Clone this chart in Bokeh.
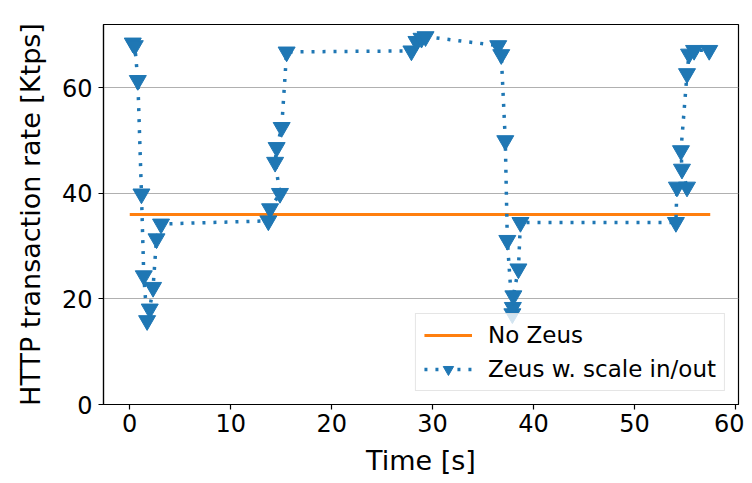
from bokeh.plotting import figure
from bokeh.models import Range1d, FixedTicker, Legend
from bokeh.embed import file_html
from bokeh.resources import INLINE

# Data
no_zeus_t = [0.0, 57.5]
no_zeus_rate = [36.0, 36.0]

zeus_t = [0.3, 0.5, 0.8, 1.16, 1.39, 1.72, 1.98, 2.31, 2.65, 3.1,
          13.73, 13.9, 14.88, 14.4, 14.55, 15.05, 15.54,
          27.9, 28.4, 28.9, 29.3, 36.5, 36.8, 37.2, 37.4, 37.9, 37.95, 38.0, 38.5, 38.7,
          54.1, 54.2, 55.2, 54.7, 54.6, 55.2, 55.4, 55.9, 57.4]
zeus_rate = [68.5, 68.0, 61.4, 39.9, 24.4, 15.9, 18.1, 22.2, 31.4, 34.2,
             34.8, 37.1, 40.0, 45.9, 48.7, 52.5, 66.8,
             67.0, 68.8, 69.4, 69.7, 68.0, 66.3, 50.0, 31.1, 17.2, 18.4, 20.6, 25.7, 34.5,
             34.5, 41.2, 41.2, 44.6, 48.1, 62.7, 66.4, 67.1, 67.1]

x_ticks = [0, 10, 20, 30, 40, 50, 60]
y_ticks = [0, 20, 40, 60]

BLUE = "#1f77b4"
ORANGE = "#ff7f0e"
FONT = "DejaVu Sans"

p = figure(width=744, height=479, output_backend="svg", toolbar_location=None,
           x_range=Range1d(-2.6, 60.3), y_range=Range1d(0, 72.0),
           min_border_left=103, min_border_right=6, min_border_top=24, min_border_bottom=75)

p.outline_line_color = "black"
p.outline_line_width = 1.2
p.background_fill_color = "white"
p.border_fill_color = "white"

p.xgrid.visible = False
p.ygrid.grid_line_color = "#b0b0b0"
p.ygrid.grid_line_width = 1
p.ygrid.ticker = FixedTicker(ticks=y_ticks)

for ax in (p.xaxis, p.yaxis):
    ax.axis_line_color = "black"
    ax.axis_line_width = 1.2
    ax.major_tick_line_color = "black"
    ax.major_tick_line_width = 1.2
    ax.major_tick_out = 5
    ax.major_tick_in = 0
    ax.minor_tick_line_color = None
    ax.major_label_text_font = FONT
    ax.major_label_text_font_size = "24px"
    ax.major_label_text_color = "black"
    ax.axis_label_text_font = FONT
    ax.axis_label_text_font_size = "27px"
    ax.axis_label_text_font_style = "normal"
    ax.axis_label_text_color = "black"

p.xaxis.ticker = FixedTicker(ticks=x_ticks)
p.yaxis.ticker = FixedTicker(ticks=y_ticks)
p.xaxis.axis_label = "Time [s]"
p.yaxis.axis_label = "HTTP transaction rate [Ktps]"
p.xaxis.major_label_standoff = 4
p.yaxis.major_label_standoff = 6
p.xaxis.axis_label_standoff = 10
p.yaxis.axis_label_standoff = 13

r_no = p.line(no_zeus_t, no_zeus_rate, line_color=ORANGE, line_width=3)
r_zl = p.line(zeus_t, zeus_rate, line_color=BLUE, line_width=3.5, line_dash="3 8")
r_zm = p.scatter(zeus_t, zeus_rate, marker="inverted_triangle", size=17,
                 fill_color=BLUE, line_color=BLUE)

legend = Legend(items=[("No Zeus", [r_no]), ("Zeus w. scale in/out", [r_zl, r_zm])],
                location="bottom_right")
legend.label_text_font = FONT
legend.label_text_font_size = "23px"
legend.label_text_color = "black"
legend.border_line_color = "#cccccc"
legend.border_line_width = 1.5
legend.background_fill_alpha = 0.8
legend.glyph_width = 48
legend.glyph_height = 26
legend.label_height = 26
legend.spacing = 8
legend.padding = 8
legend.margin = 13
legend.label_standoff = 16
p.add_layout(legend, "center")

open("out.html", "w").write(file_html(p, INLINE))
